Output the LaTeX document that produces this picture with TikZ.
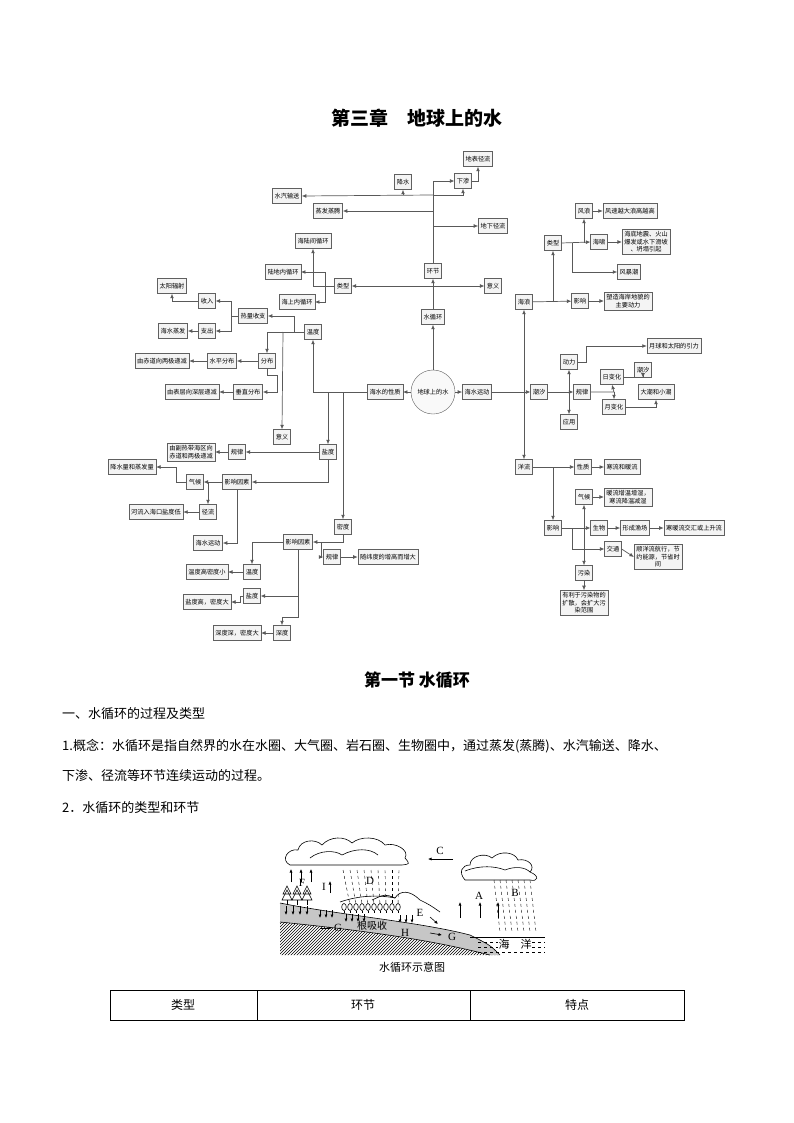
\documentclass[tikz,border=0pt]{standalone}
\usepackage{fontspec}
\setmainfont{Liberation Serif}
\newfontfamily\cjk{Noto Sans CJK SC}
\usetikzlibrary{arrows.meta,patterns}
\newcommand{\fs}{\cjk\fontsize{6.2}{7.5}\selectfont}
\tikzset{
 bx/.style={draw=gray!75!black, fill=gray!9, font=\fs, inner sep=2.2pt, minimum height=15pt, align=center},
 ar/.style={-{Latex[length=4.5pt,width=3.8pt]}, draw=gray!70!black, line width=0.7pt},
 ln/.style={draw=gray!70!black, line width=0.7pt},
 wa/.style={-{Latex[length=3.5pt,width=3pt]}},
 body/.style={font=\cjk\fontsize{13}{16}\selectfont, anchor=west, inner sep=0pt}
}
\begin{document}
\begin{tikzpicture}[x=1pt,y=-1pt]
\useasboundingbox (0,0) rectangle (794,1123);
\fill[white] (0,0) rectangle (794,1123);
\node[font=\cjk\bfseries\fontsize{19}{22}\selectfont] (t1) at (417,118) {第三章\quad 地球上的水};
\node[draw=gray!75!black, fill=gray!5, circle, minimum size=44pt, font=\fs, inner sep=0pt] (dq) at (433,392) {地球上的水};
\node[bx] (sxh) at (433,317) {水循环};
\node[bx] (hj) at (433,271) {环节};
\node[bx] (dbjl) at (478,159) {地表径流};
\node[bx] (js) at (403,182) {降水};
\node[bx] (xs) at (463,181) {下渗};
\node[bx] (sqss) at (287,196) {水汽输送};
\node[bx] (zfzt) at (328,211) {蒸发蒸腾};
\node[bx] (dxjl) at (493,226) {地下径流};
\node[bx] (hlj) at (313,241) {海陆间循环};
\node[bx] (ldn) at (283,272) {陆地内循环};
\node[bx] (lx1) at (343,286) {类型};
\node[bx] (hsn) at (297,302) {海上内循环};
\node[bx] (yy1) at (493,286) {意义};
\node[bx] (tyfs) at (172,286) {太阳辐射};
\node[bx] (sr) at (207,301) {收入};
\node[bx] (rlsz) at (253,316) {热量收支};
\node[bx] (zc) at (207,331) {支出};
\node[bx] (hszf) at (173,331) {海水蒸发};
\node[bx] (wd) at (313,332) {温度};
\node[bx] (fb) at (267,361) {分布};
\node[bx] (spfb) at (222,361) {水平分布};
\node[bx] (cdxl) at (162,361) {由赤道向两极递减};
\node[bx] (czfb) at (248,392) {垂直分布};
\node[bx] (bcxs) at (192,392) {由表层向深层递减};
\node[bx] (hsxz) at (385,392) {海水的性质};
\node[bx] (hsyd) at (477,392) {海水运动};
\node[bx] (yy2) at (282,437) {意义};
\node[bx] (yd) at (328,452) {盐度};
\node[bx] (gl1) at (237,452) {规律};
\node[bx] (frd) at (191,452) {由副热带海区向\\赤道和两极递减};
\node[bx] (yxys1) at (237,482) {影响因素};
\node[bx] (qh1) at (195,482) {气候};
\node[bx] (jsl) at (132,467) {降水量和蒸发量};
\node[bx] (jl) at (208,512) {径流};
\node[bx] (hlrh) at (156,512) {河流入海口盐度低};
\node[bx] (hsyd2) at (208,543) {海水运动};
\node[bx] (md) at (343,527) {密度};
\node[bx] (yxys2) at (298,542) {影响因素};
\node[bx] (gl2) at (332,557) {规律};
\node[bx] (swd) at (388,557) {随纬度的增高而增大};
\node[bx] (wd2) at (252,572) {温度};
\node[bx] (wdg) at (207,572) {温度高密度小};
\node[bx] (yd2) at (252,596) {盐度};
\node[bx] (ydg) at (207,602) {盐度高，密度大};
\node[bx] (sd) at (282,633) {深度};
\node[bx] (sds) at (237,633) {深度深，密度大};
\node[bx] (hl) at (524,302) {海浪};
\node[bx] (lx2) at (553,243) {类型};
\node[bx] (fl) at (584,211) {风浪};
\node[bx] (fsy) at (630,211) {风速越大浪高越高};
\node[bx] (hx) at (599,242) {海啸};
\node[bx] (hdz) at (646,242) {海底地震、火山\\爆发或水下滑坡\\、坍塌引起};
\node[bx] (fbc) at (629,272) {风暴潮};
\node[bx] (yx1) at (580,301) {影响};
\node[bx] (sz) at (628,301) {塑造海岸地貌的\\主要动力};
\node[bx] (cx) at (539,392) {潮汐};
\node[bx] (dl) at (569,362) {动力};
\node[bx] (yq) at (674,346) {月球和太阳的引力};
\node[bx] (gl3) at (582,392) {规律};
\node[bx] (rbh) at (612,377) {日变化};
\node[bx] (cx2) at (643,370) {潮汐};
\node[bx] (ybh) at (614,407) {月变化};
\node[bx] (dc) at (656,392) {大潮和小潮};
\node[bx] (yingy) at (569,422) {应用};
\node[bx] (ylu) at (524,467) {洋流};
\node[bx] (xz) at (583,467) {性质};
\node[bx] (hln) at (622,467) {寒流和暖流};
\node[bx] (qh2) at (584,497) {气候};
\node[bx] (nl) at (628,497) {暖流增温增湿，\\寒流降温减湿};
\node[bx] (yx2) at (553,528) {影响};
\node[bx] (sw) at (599,528) {生物};
\node[bx] (xcyc) at (635,528) {形成渔场};
\node[bx] (hnl) at (694,528) {寒暖流交汇或上升流};
\node[bx] (jt) at (613,549) {交通};
\node[bx] (sylh) at (658,557) {顺洋流航行，节\\约能源，节省时\\间};
\node[bx] (wr) at (584,573) {污染};
\node[bx] (ylwr) at (584,603) {有利于污染物的\\扩散，会扩大污\\染范围};
\draw[ar] (dq) -- (sxh);
\draw[ar] (sxh) -- (hj);
\draw[ar] (hj.north) |- (xs.west);
\draw[ar] (433,195) -- (sqss.east);
\draw[ar] (403,195) -- (js.south);
\draw[ar] (433,195) -| (xs.south);
\draw[ar] (xs.east) -| (dbjl.south);
\draw[ar] (433,211) -- (zfzt.east);
\draw[ar] (433,226) -- (dxjl.west);
\draw[{Latex[length=4.5pt,width=3.8pt]}-{Latex[length=4.5pt,width=3.8pt]}, ln] (lx1.east) -- (yy1.west);
\draw[ar] (lx1.west) -| (hlj.south);
\draw[ar] (lx1.west) -- (325,286) |- (hsn.east);
\draw[ar] (325,286) |- (ldn.east);
\draw[ar] (hsxz.west) -- (313,392) -- (wd.south);
\draw[ar] (wd.west) -- (294,332) |- (rlsz.east);
\draw[ar] (294,332) -| (fb.north);
\draw[ar] (283,332) -- (yy2.north);
\draw[ar] (rlsz.west) -- (231,316) |- (sr.east);
\draw[ar] (231,316) |- (zc.east);
\draw[ar] (sr.west) -| (tyfs.south);
\draw[ar] (zc) -- (hszf);
\draw[ar] (fb) -- (spfb);
\draw[ar] (spfb) -- (cdxl);
\draw[ar] (fb.south) -- (267,375) -- (277,375) |- (czfb.east);
\draw[ar] (czfb) -- (bcxs);
\draw[ar] (dq) -- (hsxz);
\draw[ar] (dq) -- (hsyd);
\draw[ar] (328,392) -- (yd.north);
\draw[ar] (yd) -- (gl1);
\draw[ar] (gl1) -- (frd);
\draw[ar] (yd.south) |- (yxys1.east);
\draw[ar] (yxys1) -- (qh1);
\draw[ar] (qh1.west) -- (176,482) |- (jsl.east);
\draw[ar] (208,482) -- (jl.north);
\draw[ar] (jl) -- (hlrh);
\draw[ar] (yxys1.south) |- (hsyd2.east);
\draw[ar] (343,392) -- (md.north);
\draw[ar] (md.south) |- (yxys2.east);
\draw[ar] (321,542) |- (gl2.west);
\draw[ar] (gl2) -- (swd);
\draw[ar] (yxys2.west) -| (wd2.north);
\draw[ar] (wd2) -- (wdg);
\draw[ar] (yxys2.south) -- (298,617) -| (sd.north);
\draw[ar] (298,596) -- (yd2.east);
\draw[ar] (yd2.west) -- (240,596) |- (ydg.east);
\draw[ar] (sd) -- (sds);
\draw[ar] (hsyd) -- (cx);
\draw[ar] (524,392) -- (hl.south);
\draw[ar] (524,392) -- (ylu.north);
\draw[ar] (hl) -- (yx1);
\draw[ar] (553,302) -- (lx2.south);
\draw[ar] (lx2.east) -- (hx.west);
\draw[ar] (584,243) -- (fl.south);
\draw[ar] (572,243) |- (fbc.west);
\draw[ar] (fl) -- (fsy);
\draw[ar] (hx) -- (hdz);
\draw[ar] (yx1) -- (sz);
\draw[ar] (cx) -- (gl3);
\draw[ar] (569,392) -- (dl.south);
\draw[ar] (569,392) -- (yingy.north);
\draw[ar] (dl.east) -- (586,362) |- (yq.west);
\draw[ar] (gl3.east) -- (614,392) -- (rbh.south);
\draw[ar] (614,392) -- (ybh.north);
\draw[ar] (rbh.east) -| (cx2.south);
\draw[ar] (ybh.east) -| (dc.south);
\draw[ar] (ylu) -- (xz);
\draw[ar] (xz) -- (hln);
\draw[ar] (553,467) -- (yx2.north);
\draw[ar] (yx2) -- (sw);
\draw[ar] (sw) -- (xcyc);
\draw[ar] (xcyc) -- (hnl);
\draw[ar] (584,528) -- (qh2.south);
\draw[ar] (584,528) -- (wr.north);
\draw[ar] (572,528) |- (jt.west);
\draw[ar] (qh2) -- (nl);
\draw[ar] (jt.east) -- (sylh.west);
\draw[ar] (wr) -- (ylwr);
\node[font=\cjk\bfseries\fontsize{17}{20}\selectfont] (t2) at (417,680) {第一节\ 水循环};
\node[body] (l1) at (62,714) {一、水循环的过程及类型};
\node[body] (l2) at (62,746) {1.概念：水循环是指自然界的水在水圈、大气圈、岩石圈、生物圈中，通过蒸发(蒸腾)、水汽输送、降水、};
\node[body] (l3) at (62,776) {下渗、径流等环节连续运动的过程。};
\node[body] (l4) at (62,808) {2．水循环的类型和环节};
\begin{scope}[line width=0.6pt]
\fill[pattern=north east lines] (280,922) -- (400,934) -- (500,955) -- (280,955) -- cycle;
\fill[gray!45] (280,903) .. controls (340,915) and (420,922) .. (470,935) .. controls (490,945) .. (500,955) -- (490,955) .. controls (450,945) and (400,934) .. (280,922) -- cycle;
\draw (280,903) .. controls (340,915) and (420,922) .. (470,935) .. controls (490,945) .. (500,955);
\draw (280,922) .. controls (400,934) and (450,945) .. (490,955);
\draw (470,937) -- (545,937);
\foreach \yy in {942,947,952} \draw[dashed] (478,\yy) -- (545,\yy);
\node[font=\cjk\fontsize{11}{12}\selectfont, fill=white, inner sep=0.5pt] (sea) at (515,944) {海\quad 洋};
\draw (340,902) .. controls (360,895) and (380,895) .. (395,898) .. controls (400,890) and (410,890) .. (420,900) .. controls (430,905) .. (440,912);
\draw (372,900) .. controls (385,894) .. (395,898);
\foreach \tx in {287,297,307} {\draw (\tx,890) -- (\tx-5,900) -- (\tx+5,900) -- cycle; \draw (\tx,886) -- (\tx-4,894) -- (\tx+4,894) -- cycle; \draw (\tx,900) -- (\tx,905);}
\foreach \tx in {286,293,300,307} \draw[wa] (\tx,906) -- (\tx,915);
\foreach \tx in {320,326,332} \draw[wa] (\tx,910) -- (\tx,918);
\foreach \tx in {344,350,...,398} {\draw (\tx,907) ellipse (2.3 and 3.5); \draw (\tx,910.5) -- (\tx,913);}
\foreach \tx in {346,352,358,364} \draw[wa] (\tx,914) -- (\tx,922);
\foreach \tx in {400,406,412} \draw[wa] (\tx,915) -- (\tx,923);
\draw[fill=white] (290,865) .. controls (280,860) and (288,848) .. (298,850) .. controls (300,840) and (315,838) .. (322,845) .. controls (330,836) and (345,836) .. (352,843) .. controls (360,836) and (378,836) .. (385,845) .. controls (395,842) and (410,850) .. (405,858) .. controls (410,864) .. (402,865) -- cycle;
\draw (310,858) .. controls (320,850) and (335,850) .. (342,855) .. controls (355,848) and (370,848) .. (378,855);
\draw[fill=white] (465,880) .. controls (458,872) and (462,865) .. (470,865) .. controls (470,856) and (485,852) .. (492,858) .. controls (500,850) and (515,852) .. (518,860) .. controls (528,858) and (536,866) .. (530,872) .. controls (540,876) and (538,882) .. (530,880) -- cycle;
\draw (465,871) .. controls (480,865) and (495,866) .. (505,870) .. controls (515,866) and (525,867) .. (530,872);
\foreach \i in {0,...,8} \draw[dashed,line width=0.4pt] (343+\i*7,870) -- (350+\i*6,905);
\foreach \i in {0,...,6} \draw[dashed,line width=0.4pt] (494+\i*6,880) -- (500+\i*6,932);
\draw[wa] (453,859) -- (428,859);
\foreach \tx in {291,301,311} \draw[wa] (\tx,882) -- (\tx,869);
\draw[wa] (330,893) -- (330,881);
\foreach \tx in {460,480,498} \draw[wa] (\tx,918) -- (\tx,902);
\draw[wa] (430,917) -- (438,924);
\draw[wa] (320,928) -- (332,928);
\draw[wa] (430,933) -- (442,935);
\node[font=\fontsize{11}{12}\selectfont] (lC) at (440,851) {C};
\node[font=\fontsize{11}{12}\selectfont] (lF) at (302,883) {F};
\node[font=\fontsize{11}{12}\selectfont] (lI) at (324,887) {I};
\node[font=\fontsize{11}{12}\selectfont] (lD) at (370,881) {D};
\node[font=\fontsize{11}{12}\selectfont] (lA) at (479,896) {A};
\node[font=\fontsize{11}{12}\selectfont] (lB) at (515,893) {B};
\node[font=\fontsize{11}{12}\selectfont] (lE) at (420,913) {E};
\node[font=\fontsize{11}{12}\selectfont] (lG1) at (338,928) {G};
\node[font=\fontsize{11}{12}\selectfont] (lH) at (405,933) {H};
\node[font=\fontsize{11}{12}\selectfont] (lG2) at (452,937) {G};
\node[font=\cjk\fontsize{10}{12}\selectfont] (gxs) at (372,926) {根吸收};
\end{scope}
\node[font=\cjk\fontsize{11}{13}\selectfont] (cap) at (412,967) {水循环示意图};
\draw[line width=0.6pt] (110,990) rectangle (684,1020);
\draw[line width=0.6pt] (257,990) -- (257,1020) (470,990) -- (470,1020);
\node[font=\cjk\fontsize{12}{14}\selectfont] (h1) at (183,1005) {类型};
\node[font=\cjk\fontsize{12}{14}\selectfont] (h2) at (363,1005) {环节};
\node[font=\cjk\fontsize{12}{14}\selectfont] (h3) at (577,1005) {特点};
\end{tikzpicture}
\end{document}
